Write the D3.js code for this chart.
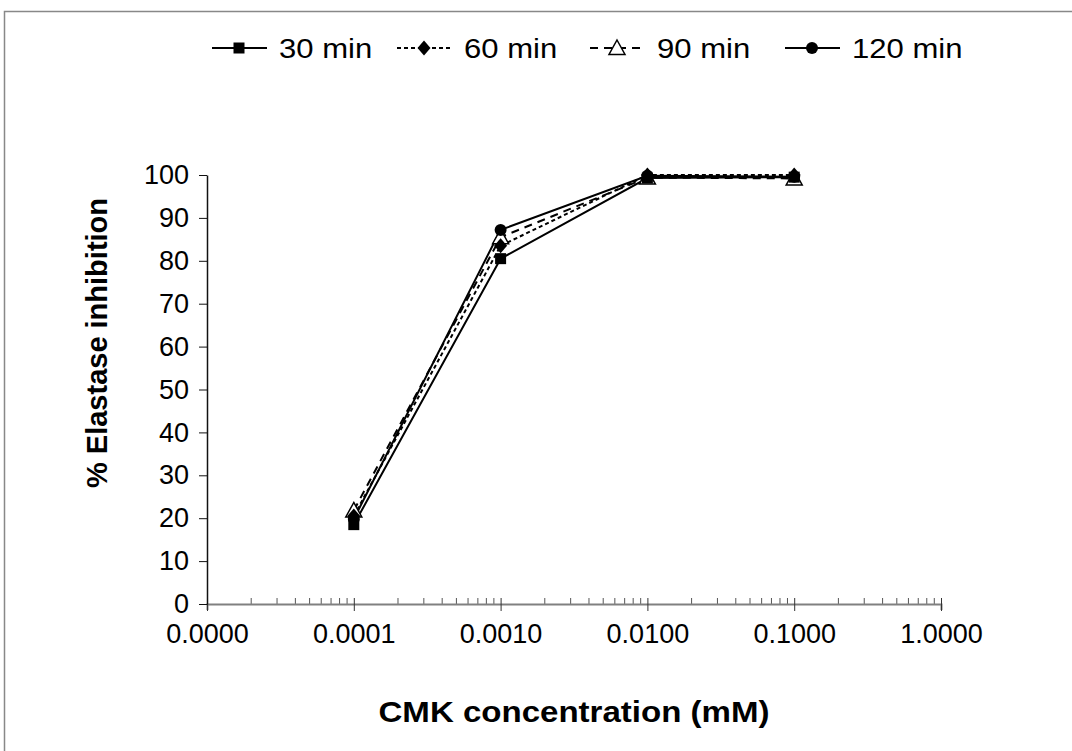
<!DOCTYPE html>
<html>
<head>
<meta charset="utf-8">
<script src="https://cdn.jsdelivr.net/npm/d3@7"></script>
<style>
    body { margin: 0; background: #fff; }
    svg { display: block; font-family: "Liberation Sans", Arial, sans-serif; }
</style>
</head>
<body>
<div id="chart"></div>
<script>
// concentrations (mM)
const concentrations = [0.0001, 0.001, 0.01, 0.1];
const seriesNames = ["30 min", "60 min", "90 min", "120 min"];
const inhibition30 = [18.5, 80.5, 99.3, 99.5];
const inhibition60 = [20.5, 83.5, 100, 100];
const inhibition90 = [21.8, 85.5, 99.4, 99.2];
const inhibition120 = [19.8, 87.2, 99.8, 99.6];
const xTickValues = [0.00001, 0.0001, 0.001, 0.01, 0.1, 1];
const yTickValues = [0, 10, 20, 30, 40, 50, 60, 70, 80, 90, 100];

const width = 1072, height = 751;
const margin = { left: 207, right: 131, top: 175, bottom: 147 };
const plotW = width - margin.left - margin.right;
const plotH = height - margin.top - margin.bottom;

const svg = d3.select("#chart").append("svg")
    .attr("width", width)
    .attr("height", height);

// outer chart frame
svg.append("rect")
    .attr("x", 4.5).attr("y", 11.5)
    .attr("width", 1080).attr("height", 760)
    .attr("fill", "none")
    .attr("stroke", "#888")
    .attr("stroke-width", 1.5);

const g = svg.append("g")
    .attr("transform", "translate(" + margin.left + "," + margin.top + ")");

const xScale = d3.scaleLog()
    .domain([0.00001, 1])
    .range([0, plotW]);

const yScale = d3.scaleLinear()
    .domain([0, 100])
    .range([plotH, 0]);

// minor ticks on x axis (upward)
var minor = [];
for (var e = -5; e < 0; e++) {
    for (var m = 2; m <= 9; m++) minor.push(m * Math.pow(10, e));
}
g.append("g")
    .selectAll("line")
    .data(minor)
    .join("line")
    .attr("x1", d => xScale(d)).attr("x2", d => xScale(d))
    .attr("y1", plotH).attr("y2", plotH - 6)
    .attr("stroke", "#555").attr("stroke-width", 1);

// x axis
var xAxis = d3.axisBottom(xScale)
    .tickValues(xTickValues)
    .tickFormat(d3.format(".4f"))
    .tickSize(6)
    .tickPadding(14);

var xg = g.append("g")
    .attr("transform", "translate(0," + plotH + ")")
    .call(xAxis);
xg.select(".domain").attr("stroke", "#808080").attr("stroke-width", 2);
xg.selectAll(".tick line").attr("stroke", "#333").attr("y1", -6).attr("y2", 7);
xg.selectAll(".tick text").attr("font-size", 27).attr("fill", "#000");

// y axis
var yAxis = d3.axisLeft(yScale)
    .tickValues(yTickValues)
    .tickSize(8)
    .tickSizeOuter(0)
    .tickPadding(10);

var yg = g.append("g").call(yAxis);
yg.select(".domain").attr("stroke", "#111").attr("stroke-width", 1.5);
yg.selectAll(".tick line").attr("stroke", "#111");
yg.selectAll(".tick text").attr("font-size", 27).attr("fill", "#000");

// axis titles (text in the reference is slightly wide, so stretch horizontally)
svg.append("g")
    .attr("transform", "translate(574,722) scale(1.14,1)")
    .append("text")
    .attr("text-anchor", "middle")
    .attr("font-size", 29).attr("font-weight", "bold")
    .text("CMK concentration (mM)");

svg.append("text")
    .attr("transform", "translate(107,343) rotate(-90)")
    .attr("text-anchor", "middle")
    .attr("font-size", 29).attr("font-weight", "bold")
    .text("% Elastase inhibition");

// series definitions
const series = [
    { name: seriesNames[0], values: inhibition30, dash: null, marker: "square" },
    { name: seriesNames[1], values: inhibition60, dash: "4,3", marker: "diamond" },
    { name: seriesNames[2], values: inhibition90, dash: "8,6", marker: "triangle" },
    { name: seriesNames[3], values: inhibition120, dash: null, marker: "circle" }
];
// open triangles sit underneath the filled markers
const markerOrder = [2, 0, 1, 3];

function drawMarker(sel, type) {
    if (type === "square") {
        sel.append("rect").attr("x", -5.5).attr("y", -5.5).attr("width", 11).attr("height", 11)
            .attr("fill", "#000");
    } else if (type === "diamond") {
        sel.append("path").attr("d", "M0,-7.5L6.5,0L0,7.5L-6.5,0Z").attr("fill", "#000");
    } else if (type === "triangle") {
        sel.append("path").attr("d", "M0,-8L8,6.5L-8,6.5Z")
            .attr("fill", "#fff").attr("stroke", "#000").attr("stroke-width", 1.5);
    } else {
        sel.append("circle").attr("r", 6).attr("fill", "#000");
    }
}

const line = d3.line()
    .x(function (d) { return xScale(d.x) })
    .y(function (d) { return yScale(d.y) });

function seriesData(s) {
    return concentrations.map((c, i) => ({ x: c, y: s.values[i] }));
}

series.forEach(function (s) {
    g.append("path")
        .datum(seriesData(s))
        .attr("fill", "none")
        .attr("stroke", "#000")
        .attr("stroke-width", 2)
        .attr("stroke-dasharray", s.dash)
        .attr("d", line);
});

markerOrder.forEach(function (k) {
    var s = series[k];
    seriesData(s).forEach(function (d) {
        var mk = g.append("g")
            .attr("transform", "translate(" + xScale(d.x) + "," + yScale(d.y) + ")");
        drawMarker(mk, s.marker);
    });
});

// legend
const legendX = [212, 397, 590, 785];
const legend = svg.append("g");
series.forEach(function (s, i) {
    var lg = legend.append("g").attr("transform", "translate(" + legendX[i] + ",48)");
    lg.append("line")
        .attr("x1", 0).attr("x2", 55).attr("y1", 0).attr("y2", 0)
        .attr("stroke", "#000").attr("stroke-width", 2)
        .attr("stroke-dasharray", s.dash);
    drawMarker(lg.append("g").attr("transform", "translate(27,0)"), s.marker);
    lg.append("g")
        .attr("transform", "translate(67,10) scale(1.15,1)")
        .append("text")
        .attr("font-size", 27)
        .text(s.name);
});
</script>
</body>
</html>
